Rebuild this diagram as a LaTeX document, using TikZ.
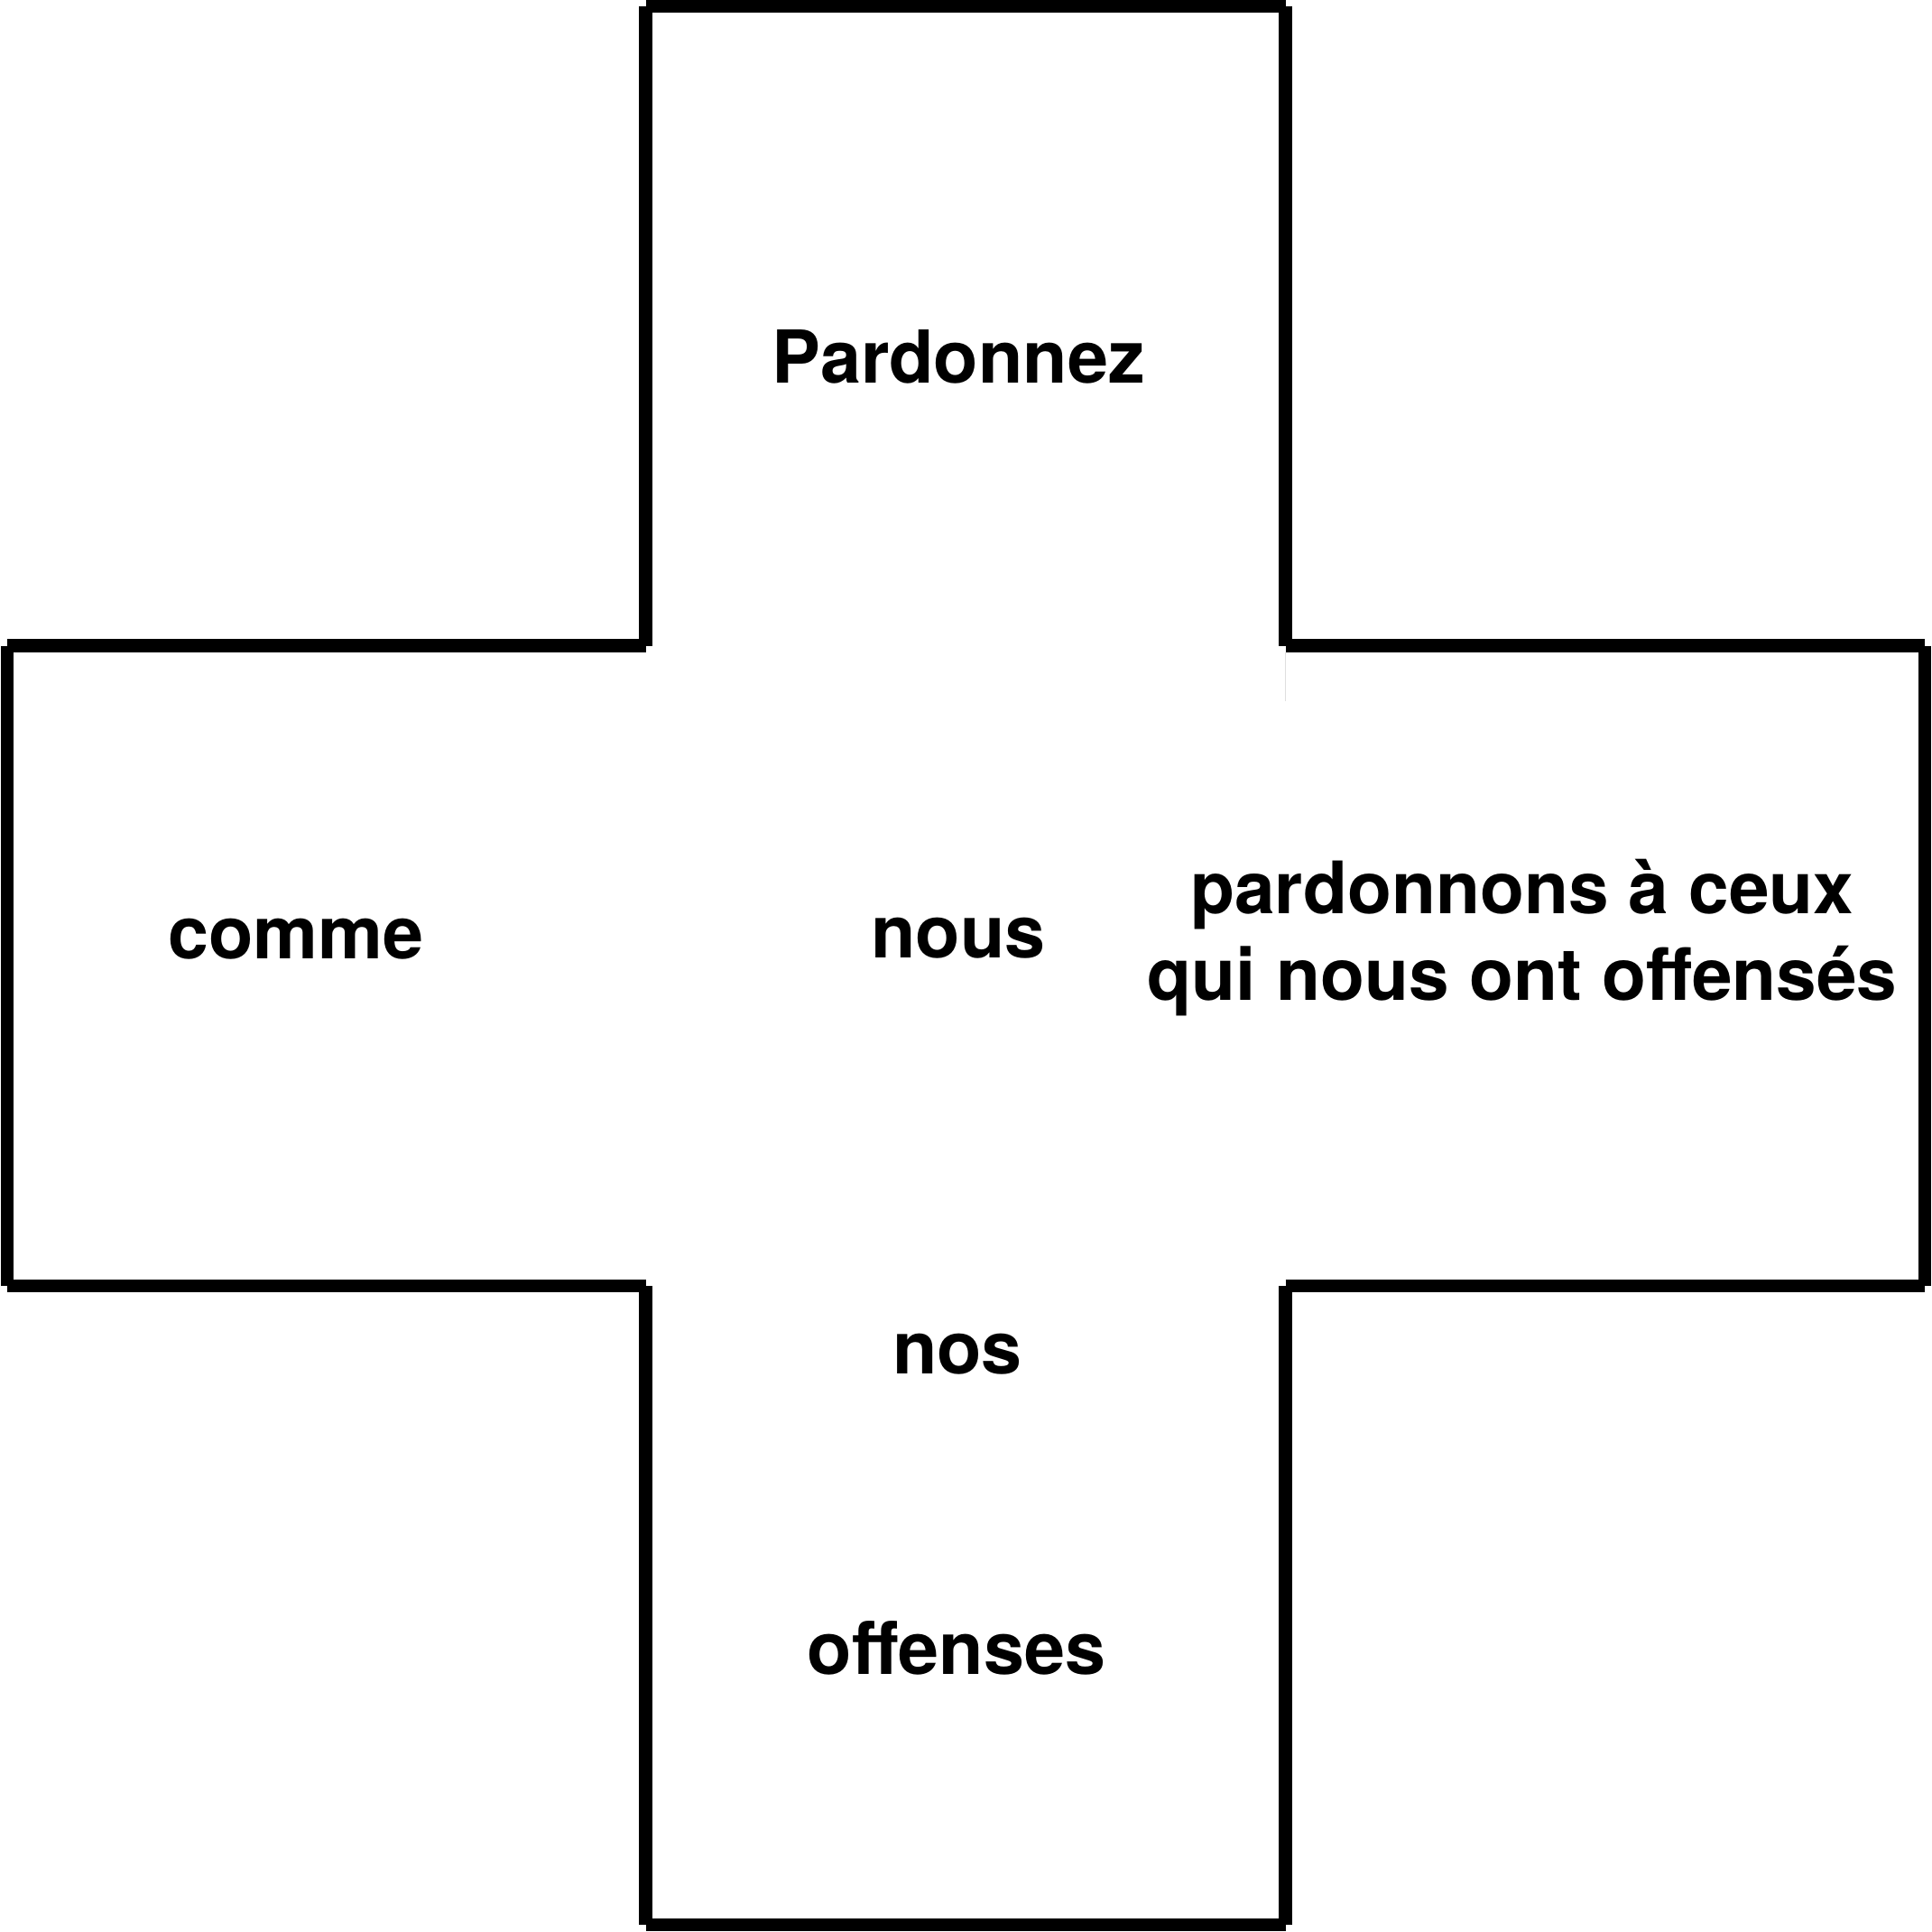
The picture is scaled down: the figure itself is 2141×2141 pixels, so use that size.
\documentclass[tikz,border=0pt]{standalone}
\usepackage{fontspec}
\setmainfont{TeX Gyre Heros}
\usepackage{tikz}

\begin{document}
\begin{tikzpicture}[x=0.01cm,y=-0.01cm]
\tikzstyle{every node}=[font=\bfseries\fontsize{23}{27.3}\selectfont,inner sep=0pt];
\tikzstyle{wall}=[line width=0.145cm,line cap=butt];
\useasboundingbox (0,0) rectangle (2141,2141);

\coordinate (top-l) at (715.5,7);
\coordinate (top-r) at (1424.5,7);
\coordinate (mid-tl) at (715.5,715.5);
\coordinate (mid-tr) at (1424.5,715.5);
\coordinate (out-tl) at (8,715.5);
\coordinate (out-tr) at (2133,715.5);
\coordinate (out-bl) at (8,1425);
\coordinate (out-br) at (2133,1425);
\coordinate (mid-bl) at (715.5,1425);
\coordinate (mid-br) at (1424.5,1425);
\coordinate (bot-l) at (715.5,2133);
\coordinate (bot-r) at (1424.5,2133);
\coordinate (seam-a) at (1424.5,723);
\coordinate (seam-b) at (1424.5,777);

\node[anchor=base] (pardonnez) at (1062,424) {Pardonnez};
\node[anchor=base] (comme) at (328,1062) {comme};
\node[anchor=base] (nous) at (1062,1061) {nous};
\node[anchor=base,align=center,font=\bfseries\fontsize{22.8}{27.3}\selectfont] (pardonnons) at (1687,1108) {pardonnons à ceux\\qui nous ont offensés};
\node[anchor=base] (nos) at (1061,1522) {nos};
\node[anchor=base] (offenses) at (1060,1855) {offenses};

\path[draw] [wall] (top-l) -- (top-r);
\path[draw] [wall] (top-l) -- (mid-tl);
\path[draw] [wall] (top-r) -- (mid-tr);
\path[draw] [wall] (out-tl) -- (mid-tl);
\path[draw] [wall] (mid-tr) -- (out-tr);
\path[draw] [wall] (out-tl) -- (out-bl);
\path[draw] [wall] (out-tr) -- (out-br);
\path[draw] [wall] (out-bl) -- (mid-bl);
\path[draw] [wall] (mid-br) -- (out-br);
\path[draw] [wall] (mid-bl) -- (bot-l);
\path[draw] [wall] (mid-br) -- (bot-r);
\path[draw] [wall] (bot-l) -- (bot-r);
\path[draw] [gray!25,line width=0.3pt] (seam-a) -- (seam-b);
\end{tikzpicture}
\end{document}
